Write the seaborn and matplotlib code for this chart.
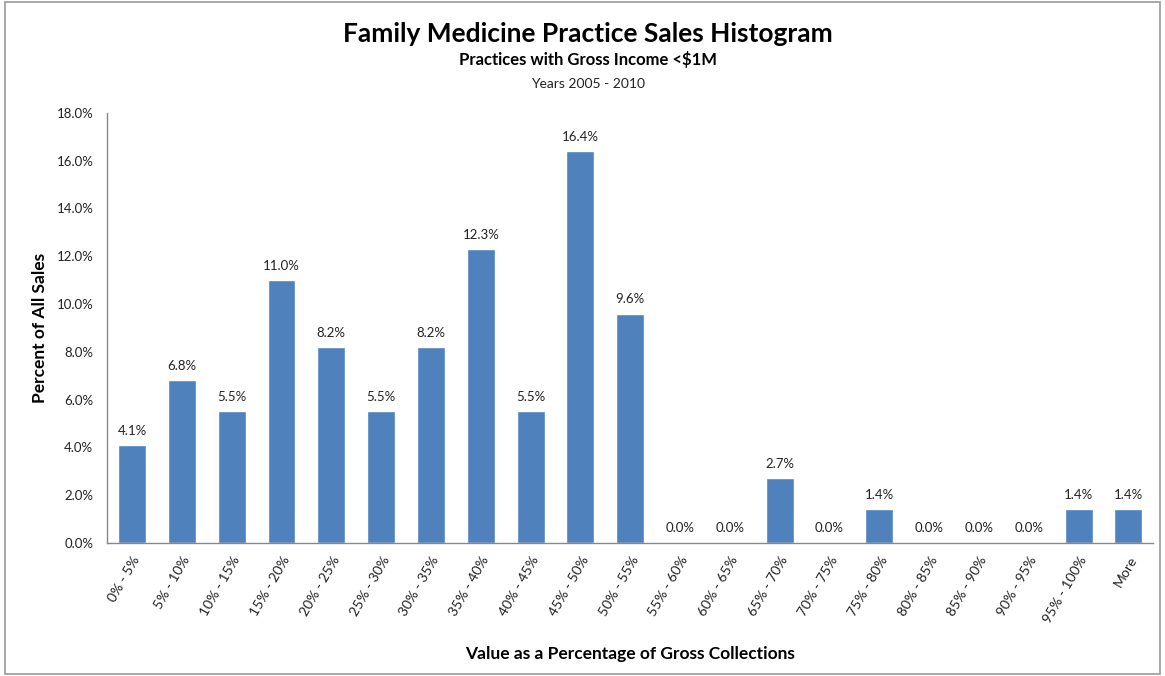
import matplotlib
matplotlib.use("Agg")
import matplotlib.pyplot as plt
import seaborn as sns
import pandas as pd
from matplotlib.patches import Rectangle
from matplotlib.ticker import FuncFormatter

categories = ["0% - 5%", "5% - 10%", "10% - 15%", "15% - 20%", "20% - 25%",
              "25% - 30%", "30% - 35%", "35% - 40%", "40% - 45%", "45% - 50%",
              "50% - 55%", "55% - 60%", "60% - 65%", "65% - 70%", "70% - 75%",
              "75% - 80%", "80% - 85%", "85% - 90%", "90% - 95%", "95% - 100%", "More"]
percent = [4.1, 6.8, 5.5, 11.0, 8.2, 5.5, 8.2, 12.3, 5.5, 16.4,
           9.6, 0.0, 0.0, 2.7, 0.0, 1.4, 0.0, 0.0, 0.0, 1.4, 1.4]
yticks = [0, 2, 4, 6, 8, 10, 12, 14, 16, 18]

sns.set_theme(style="white")
plt.rcParams['font.family'] = ['Lato', 'DejaVu Sans']

df = pd.DataFrame({"cat": categories, "pct": percent})

fig = plt.figure(figsize=(11.65, 6.76), dpi=100)
ax = fig.add_axes([0.092, 0.197, 0.898, 0.636])
sns.barplot(data=df, x="cat", y="pct", color="#4F81BD", saturation=1,
            width=0.56, ax=ax)

ax.set_ylim(0, 18)
ax.set_yticks(yticks)
ax.yaxis.set_major_formatter(FuncFormatter(lambda v, p: f"{v:.1f}%"))
ax.set_xlim(-0.5, len(categories) - 0.5)
ax.tick_params(axis='y', labelsize=9.5, length=0, pad=10, colors='#222222')
ax.tick_params(axis='x', labelsize=10, length=0, pad=8, colors='#222222')
for lbl in ax.get_xticklabels():
    lbl.set_rotation(60)
    lbl.set_ha('right')
    lbl.set_rotation_mode('anchor')

for i, v in enumerate(percent):
    ax.text(i, v + 0.35, f"{v:.1f}%", ha='center', va='bottom', fontsize=9.5,
            color='#222222')

for s in ['top', 'right']:
    ax.spines[s].set_visible(False)
for s in ['left', 'bottom']:
    ax.spines[s].set_color('#888888')
    ax.spines[s].set_linewidth(1)

ax.set_xlabel("Value as a Percentage of Gross Collections", fontsize=12.5,
              fontweight='bold', color='black')
ax.set_ylabel("Percent of All Sales", fontsize=12.5, fontweight='bold',
              labelpad=6, color='black')
ax.xaxis.set_label_coords(0.5, -0.24)

fig.text(0.505, 0.949, "Family Medicine Practice Sales Histogram", ha='center',
         va='center', fontsize=19, fontweight='bold', color='black')
fig.text(0.505, 0.912, "Practices with Gross Income <$1M", ha='center',
         va='center', fontsize=12, fontweight='bold', color='black')
fig.text(0.505, 0.876, "Years 2005 - 2010", ha='center', va='center',
         fontsize=10, color='#222222')

fig.patches.append(Rectangle((0.004, 0.003), 0.992, 0.994, transform=fig.transFigure,
                             fill=False, edgecolor='#999999', linewidth=1.2))

fig.savefig("out.png", dpi=100)
